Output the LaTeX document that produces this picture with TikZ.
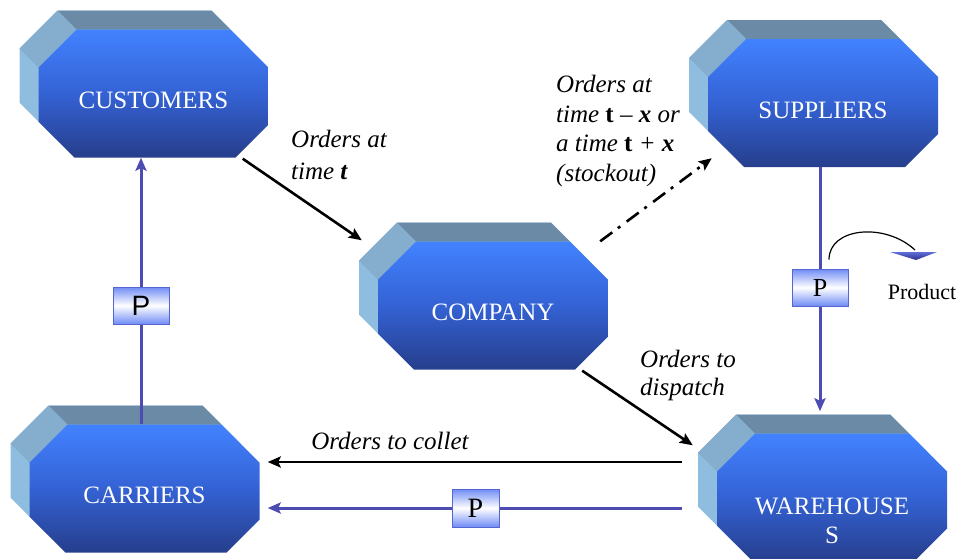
\documentclass[tikz,border=0pt]{standalone}
\usepackage{fontspec}
\setmainfont{Liberation Serif}
\newfontfamily\timesfont{Liberation Serif}
\newfontfamily\arialfont{Liberation Sans}
\usetikzlibrary{arrows.meta,calc}

\definecolor{sideface}{RGB}{143,189,224}
\definecolor{bevelface}{RGB}{133,173,206}
\definecolor{topface}{RGB}{106,138,165}
\definecolor{fronttop}{RGB}{66,130,255}
\definecolor{frontmid}{RGB}{52,98,212}
\definecolor{frontbot}{RGB}{38,62,140}
\definecolor{flowblue}{RGB}{76,76,178}
\definecolor{pboxedge}{RGB}{85,102,210}
\definecolor{pboxfill}{RGB}{112,140,245}
\definecolor{marklight}{RGB}{95,110,215}
\definecolor{markdark}{RGB}{45,50,140}

\tikzset{
  blockface/.style={rectangle, minimum width=230pt, minimum height=128pt, inner sep=0pt},
  blocklabel/.style={text=white, font=\timesfont\fontsize{25}{29}\selectfont, align=center, inner sep=0pt},
  pbox/.style={draw=pboxedge, line width=1pt, top color=pboxfill, bottom color=pboxfill,
    middle color=white, minimum width=56pt, minimum height=37pt, inner sep=0pt,
    font=\timesfont\fontsize{26}{26}\selectfont},
  flow/.style={draw=flowblue, line width=3pt},
  order/.style={draw=black, line width=2.6pt},
  tip/.style={-{Stealth[length=13pt,width=11pt,inset=2.5pt]}},
  note/.style={font=\timesfont\fontsize{25}{30}\selectfont\itshape, align=left, inner sep=0pt, anchor=west},
}

% Extruded octagon block: name, centre x, centre y, text, text drop
\newcommand\supplyblock[5]{%
  \begin{scope}[shift={(#2,#3)}]
    \fill[sideface] (-96,-83) -- (58,-83) -- (96,-45) -- (96,12) -- (63,45)
      -- (-98,45) -- (-134,9) -- (-134,-45) -- cycle;
    \fill[topface] (-96,-83) -- (58,-83) -- (77,-64) -- (-77,-64) -- cycle;
    \fill[bevelface] (-96,-83) -- (-77,-64) -- (-115,-26) -- (-134,-45) -- cycle;
    \path[top color=fronttop, bottom color=frontbot, middle color=frontmid]
      (-77,-64) -- (77,-64) -- (115,-26) -- (115,31) -- (82,64)
      -- (-79,64) -- (-115,28) -- (-115,-26) -- cycle;
  \end{scope}
  \node[blockface] (#1) at (#2,#3) {};
  \node[blocklabel] (#1-label) at ($(#1.center)+(0,#5)$) {#4};
}

\begin{document}
\begin{tikzpicture}[x=1pt,y=-1pt]
  \useasboundingbox (0,0) rectangle (958,558);
  \clip (0,0) rectangle (958,558);

  % blocks
  \supplyblock{cust}{153.5}{93.5}{CUSTOMERS}{7}
  \supplyblock{supp}{823}{103}{SUPPLIERS}{7}
  \supplyblock{comp}{493}{305.5}{COMPANY}{7}
  \supplyblock{carr}{144.5}{488.5}{CARRIERS}{7}
  \supplyblock{ware}{832}{497.5}{WAREHOUSE\\S}{23}

  % product boxes
  \node[pbox, font=\arialfont\fontsize{28}{28}\selectfont] (pl) at (141,305.5) {P};
  \node[pbox] (pr) at (820,287.5) {P};
  \node[pbox, minimum width=47pt, minimum height=38pt, font=\timesfont\fontsize{28}{28}\selectfont]
    (pb) at (475.5,508) {P};

  % product flows
  \draw[flow] (pl |- carr.north) -- (pl.south);
  \draw[flow, tip] (pl.north) -- (pl |- cust.south);
  \draw[flow] (pr |- supp.south) -- (pr.north);
  \draw[flow, tip] (pr.south) -- ($(pr |- ware.north)+(0,-22)$);
  \coordinate (wareleft) at ($(ware.west)+(-35,0)$);
  \coordinate (carrright) at ($(carr.east)+(8,0)$);
  \draw[flow] (wareleft |- pb) -- (pb.east);
  \draw[flow, tip] (pb.west) -- (carrright |- pb);

  % order flows
  \coordinate (collettail) at ($(ware.west)+(-35,-35.5)$);
  \draw[order, tip] (collettail) -- (collettail -| carrright);
  \draw[order, tip] ($(cust.south east)+(-26,1)$) -- ($(comp.north west)+(-16,-1)$);
  \draw[order, tip] ($(comp.south east)+(-26,1)$) -- ($(ware.north west)+(-24,12)$);
  \draw[order, dash pattern=on 15pt off 7pt on 3pt off 8pt, tip]
    ($(comp.north east)+(-8,0)$) -- ($(supp.south west)+(4,-9)$);

  % order labels
  \node[note, font=\timesfont\fontsize{25}{32}\selectfont\itshape] (lbl-time) at (291,155)
    {Orders at\\time \textbf{t}};
  \node[note, font=\timesfont\fontsize{25}{29.5}\selectfont\itshape] (lbl-supp) at (556,131)
    {Orders at\\time \textup{\textbf{t}} – \textbf{x} or\\a time \textup{\textbf{t}} + \textbf{x}\\(stockout)};
  \node[note, font=\timesfont\fontsize{25}{28}\selectfont\itshape] (lbl-disp) at (640,375)
    {Orders to\\dispatch};
  \node[note, anchor=center] (lbl-coll) at (390,441) {Orders to collet};

  % product marker
  \node[font=\timesfont\fontsize{22}{22}\selectfont, inner sep=0pt] (lbl-prod) at (922,292) {Product};
  \coordinate (prodstart) at ($(pr.north)+(9,-9)$);
  \coordinate (prodmark) at ($(lbl-prod.center)+(-8,-40)$);
  \path[top color=marklight, bottom color=markdark]
    ($(prodmark)+(-24,0)$) -- ($(prodmark)+(23,0)$) -- ($(prodmark)+(2,8)$) -- cycle;
  \draw[line width=1.2pt] (prodstart) .. controls ($(prodstart)+(0,-32)$) and ($(prodmark)+(-29,-30)$) .. ($(prodmark)+(1,-2)$);
\end{tikzpicture}
\end{document}
